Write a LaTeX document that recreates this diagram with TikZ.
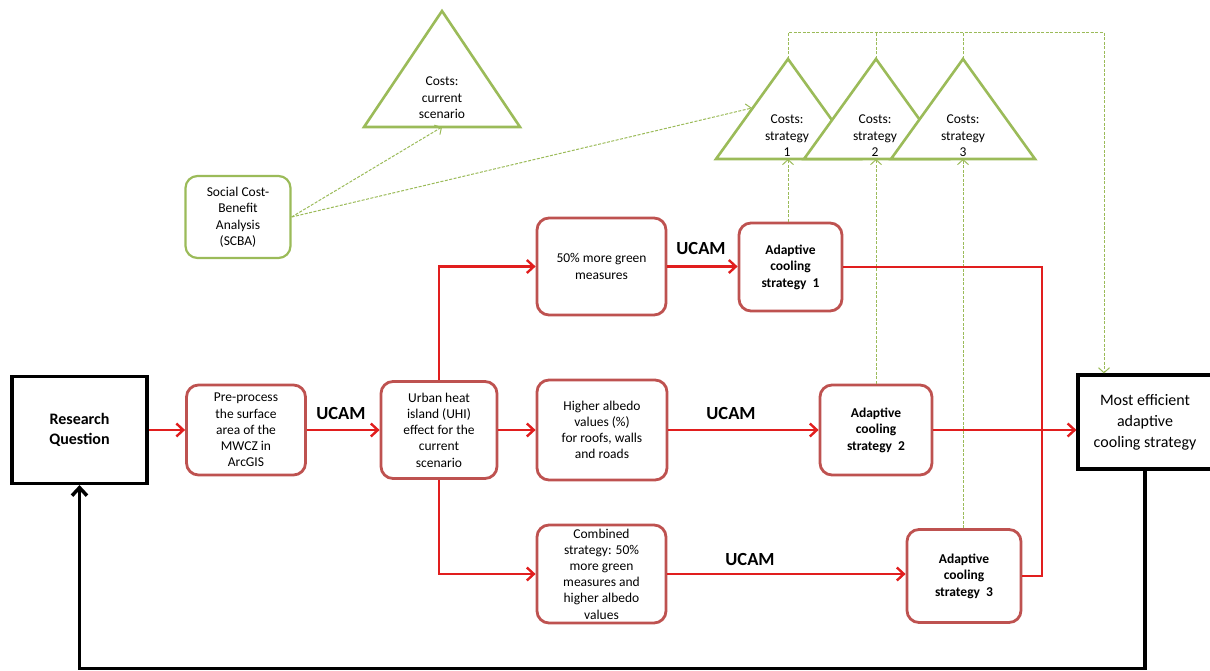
\documentclass[tikz,border=0pt]{standalone}
\usepackage{fontspec}
\setmainfont{Carlito}
\usetikzlibrary{arrows.meta}
\definecolor{boxred}{RGB}{190,82,80}
\definecolor{linered}{RGB}{225,30,30}
\definecolor{ogreen}{RGB}{155,187,89}
\begin{document}
\begin{tikzpicture}[x=1pt,y=-1pt,
  redbox/.style={draw=boxred, line width=2.8pt, rounded corners=12pt, fill=white, align=center, inner sep=0pt, font=\fontsize{13.5}{16.2}\selectfont},
  boldbox/.style={redbox, font=\bfseries\fontsize{13.5}{16.5}\selectfont},
  blackbox/.style={draw=black, line width=3.2pt, fill=white, align=center, inner sep=0pt},
  greenbox/.style={draw=ogreen, line width=2.2pt, rounded corners=12pt, fill=white, align=center, inner sep=0pt, font=\fontsize{13.5}{16.5}\selectfont},
  tri/.style={draw=ogreen, line width=2.6pt, fill=white, line join=miter},
  tritext/.style={align=center, inner sep=0pt, font=\fontsize{13.5}{16.5}\selectfont},
  ucam/.style={font=\bfseries\fontsize{18.5}{20}\selectfont, inner sep=0pt},
  redarrow/.style={draw=linered, line width=2.4pt, -{Straight Barb[length=7pt,width=13pt]}},
  redline/.style={draw=linered, line width=2.4pt},
  greenarrow/.style={draw=ogreen, line width=1pt, dash pattern=on 3pt off 1.5pt, -{Straight Barb[length=5pt,width=11pt]}},
  greenline/.style={draw=ogreen, line width=1pt, dash pattern=on 3pt off 1.5pt},
  blackarrow/.style={draw=black, line width=3.5pt, -{Straight Barb[length=8pt,width=15pt]}}
]
\useasboundingbox (0,0) rectangle (1210,671);

% ---------- triangles ----------
\draw[tri] (442,11) -- (520,127) -- (364,127) -- cycle;
\node[tritext] (tctext) at (442,98) {Costs:\\current\\scenario};
\coordinate (tcb) at (442,127);

\draw[tri] (788,59) -- (860,159) -- (716,159) -- cycle;
\draw[tri] (876,59) -- (948,159) -- (804,159) -- cycle;
\draw[tri] (963,59) -- (1035,159) -- (891,159) -- cycle;
\node[tritext] (t1text) at (787,136) {Costs:\\strategy\\1};
\node[tritext] (t2text) at (875,136) {Costs:\\strategy\\2};
\node[tritext] (t3text) at (963,136) {Costs:\\strategy\\3};
\coordinate (t1apex) at (788,59);
\coordinate (t2apex) at (876,59);
\coordinate (t3apex) at (963,59);
\coordinate (t1b) at (788,159);
\coordinate (t2b) at (876,159);
\coordinate (t3b) at (963,159);
\coordinate (t1side) at (752,108);
\coordinate (top1) at (788,33);
\coordinate (top2) at (876,33);
\coordinate (top3) at (963,33);
\coordinate (topr) at (1104,33);

% ---------- boxes ----------
\node[blackbox, minimum width=135pt, minimum height=107pt, font=\bfseries\fontsize{16}{20}\selectfont] (rq) at (79.5,430) {Research\\Question};
\node[redbox, minimum width=119pt, minimum height=90pt] (pre) at (246,430) {Pre-process\\the surface\\area of the\\MWCZ in\\ArcGIS};
\node[redbox, minimum width=116pt, minimum height=97pt] (uhi) at (439,430) {Urban heat\\island (UHI)\\effect for the\\current\\scenario};
\node[redbox, minimum width=129pt, minimum height=97pt] (g50) at (601.5,266.5) {50\% more green\\measures};
\node[boldbox, minimum width=103pt, minimum height=88pt] (a1) at (790.5,267) {Adaptive\\cooling\\strategy~~1};
\node[redbox, minimum width=130pt, minimum height=100pt] (alb) at (602,430) {Higher albedo\\values (\%)\\for roofs, walls\\and roads};
\node[boldbox, minimum width=112pt, minimum height=90pt] (a2) at (876,430) {Adaptive\\cooling\\strategy~~2};
\node[redbox, minimum width=129pt, minimum height=98pt] (comb) at (601.5,574) {Combined\\strategy: 50\%\\more green\\measures and\\higher albedo\\values};
\node[boldbox, minimum width=114pt, minimum height=93pt] (a3) at (964,576) {Adaptive\\cooling\\strategy~~3};
\node[blackbox, minimum width=134pt, minimum height=94pt, font=\fontsize{16}{21}\selectfont] (most) at (1145,422) {Most efficient\\adaptive\\cooling strategy};
\node[greenbox, minimum width=105pt, minimum height=82pt] (scba) at (238,217) {Social Cost-\\Benefit\\Analysis\\(SCBA)};

% ---------- UCAM labels ----------
\node[ucam] (u1) at (341,413) {UCAM};
\node[ucam] (u2) at (701,249) {UCAM};
\node[ucam] (u3) at (731,413) {UCAM};
\node[ucam] (u4) at (750,559) {UCAM};

% ---------- green dashed connectors ----------
\draw[greenarrow] (scba.east) -- (tcb);
\draw[greenarrow] (scba.east) -- (t1side);
\draw[greenarrow] (a1.north -| t1b) -- (t1b);
\draw[greenarrow] (a2.north) -- (t2b);
\draw[greenarrow] (a3.north -| t3b) -- (t3b);
\draw[greenline] (t1apex) -- (top1) -- (topr);
\draw[greenline] (t2apex) -- (top2);
\draw[greenline] (t3apex) -- (top3);
\draw[greenarrow] (topr) -- (topr |- most.north);

% ---------- red connectors ----------
\draw[redarrow] (rq.east) -- (pre.west);
\draw[redarrow] (pre.east) -- (uhi.west);
\draw[redarrow] (uhi.east) -- (alb.west);
\draw[redarrow] (uhi.north) |- (g50.west);
\draw[redarrow] (uhi.south) |- (comb.west);
\draw[redarrow] (g50.east) -- (g50.east -| a1.west);
\draw[redarrow] (alb.east) -- (a2.west);
\draw[redarrow] (comb.east) -- (comb.east -| a3.west);
\coordinate (jn) at (1042,576);
\draw[redline] (a1.east) -| (jn) -- (a3.east);
\draw[redarrow] (a2.east) -- (a2.east -| most.west);

% ---------- black feedback loop ----------
\coordinate (bl) at (79.5,668.5);
\draw[blackarrow] (most.south) |- (bl) -- (rq.south);
\end{tikzpicture}
\end{document}
